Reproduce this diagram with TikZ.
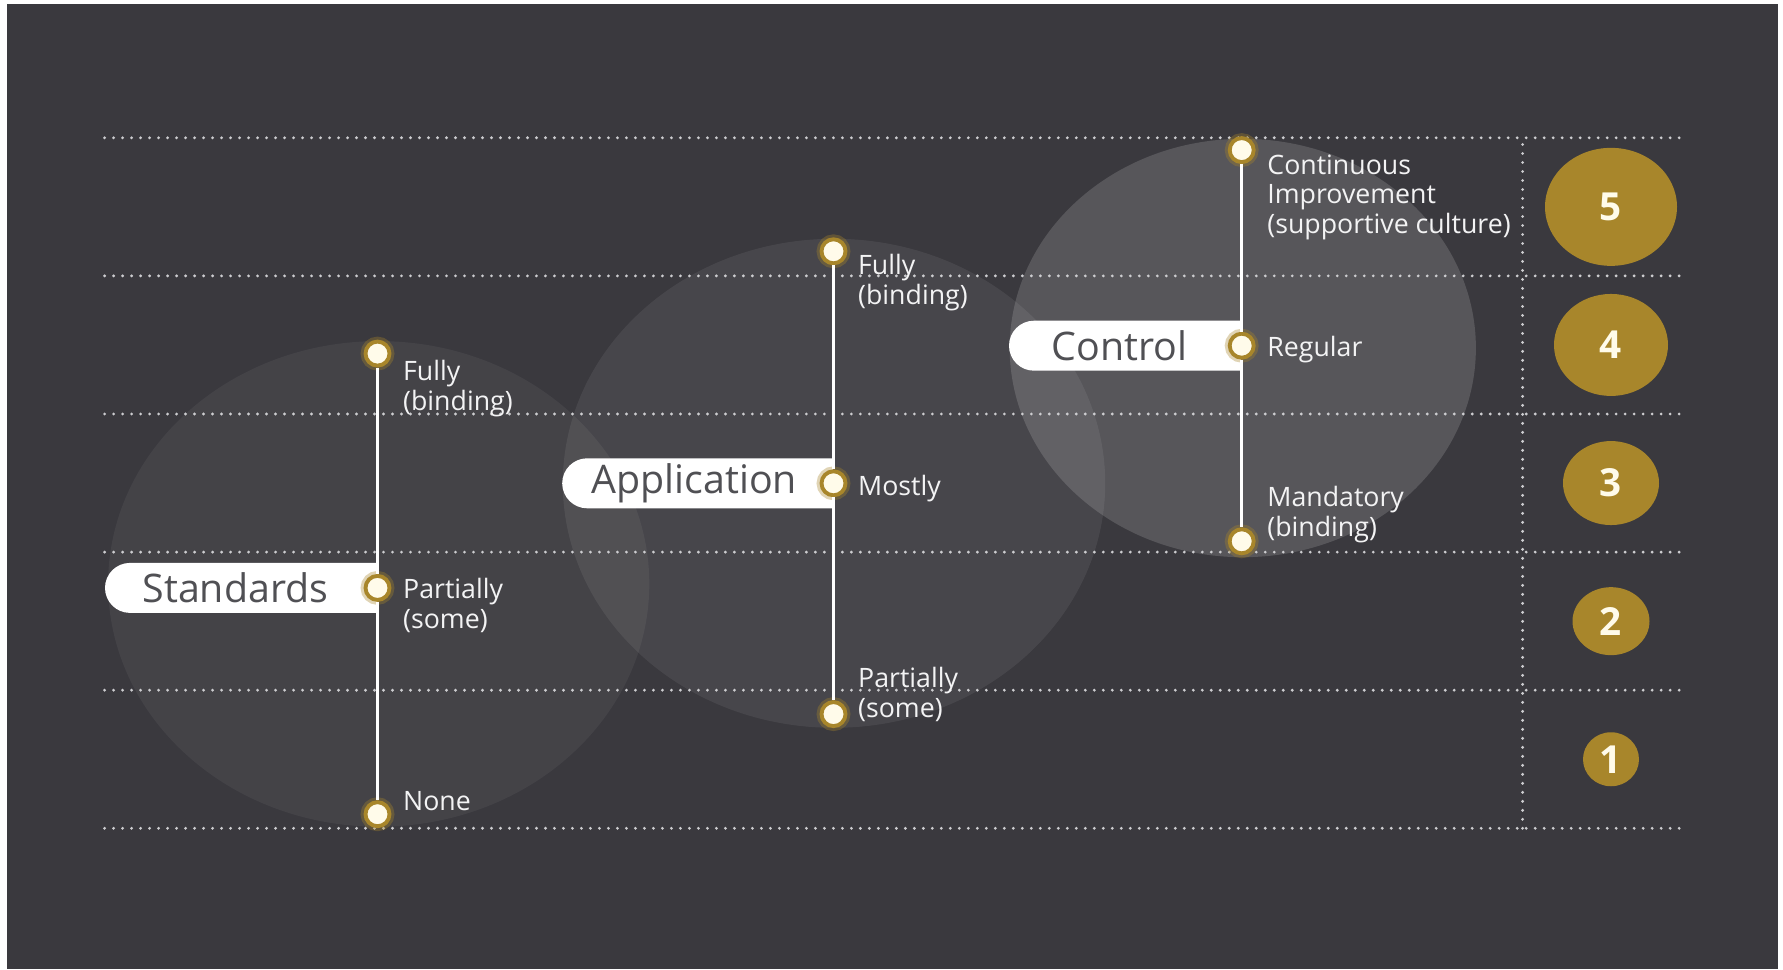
\documentclass[tikz,border=0pt]{standalone}
\usepackage{fontspec}
\setmainfont{Open Sans}
\usetikzlibrary{shapes.geometric, shapes.misc, positioning}

\definecolor{slate}{RGB}{58, 57, 62}
\definecolor{ochre}{RGB}{168, 134, 43}
\definecolor{cream}{RGB}{255, 251, 234}
\definecolor{pillgray}{RGB}{80, 80, 84}
\definecolor{dotgray}{RGB}{205, 205, 208}

\begin{document}
\begin{tikzpicture}[
  grid/.style={dotgray, line width=0.9pt, line cap=round, dash pattern=on 0pt off 2.56pt},
  halo/.style={fill=white, fill opacity=#1},
  spine/.style={draw=white, line width=0.9pt},
  knob/.style={circle, fill=cream, draw=ochre, line width=1.1pt, minimum size=0.24cm, inner sep=0pt,
    preaction={draw=ochre, line width=2.8pt, opacity=0.35}},
  tag/.style={rounded rectangle, rounded rectangle right arc=none, fill=white, text=pillgray,
    minimum height=0.5cm, inner sep=0pt, anchor=east, font=\fontsize{11.2}{13}\selectfont,
    execute at end node=\hspace{1.6mm}},
  lbl/.style={text=white!94!slate, align=left, inner sep=0pt, anchor=north west,
    font=\fontsize{7.6}{8.4}\selectfont},
  badge/.style={ellipse, fill=ochre, text=cream, inner sep=0pt, font=\fontsize{11}{12}\selectfont\bfseries}
]
  % page and dark panel
  \useasboundingbox (0,0) rectangle (17.83,9.69);
  \fill[white] (0,0) rectangle (17.83,9.69);
  \fill[slate] (0.07,0) rectangle (17.78,9.65);

  % soft discs behind the three scales
  \fill[halo=0.05] (3.787,3.851) ellipse [x radius=2.706, y radius=2.428];
  \fill[halo=0.07] (8.34,4.857) ellipse [x radius=2.712, y radius=2.445];
  \fill[halo=0.15] (12.428,6.21) ellipse [x radius=2.331, y radius=2.092];

  % level grid
  \foreach \k in {0,...,5}
    \draw[grid] (1.046,{1.407+1.381*\k}) -- (16.81,{1.407+1.381*\k});
  \draw[grid] (15.226,1.407) -- (15.226,8.312);

  % Standards
  \node[tag, minimum width=2.718cm] (stdtag) at (3.775,3.811) {Standards};
  \node[knob] (stdmid) at (stdtag.east) {};
  \node[knob] (stdtop) at (3.775,6.154) {};
  \node[knob] (stdbot) at (3.775,1.548) {};
  \draw[spine] (stdtop) -- (stdmid) -- (stdbot);
  \node[lbl] (stdfull) at ([shift={(0.25,-0.06)}]stdtop) {Fully\\(binding)};
  \node[lbl] (stdpart) at ([shift={(0.25,0.10)}]stdmid) {Partially\\(some)};
  \node[lbl] (stdnone) at ([shift={(0.25,0.237)}]stdbot) {None};

  % Application
  \node[tag, minimum width=2.706cm] (apptag) at (8.335,4.857) {Application};
  \node[knob] (appmid) at (apptag.east) {};
  \node[knob] (apptop) at (8.335,7.177) {};
  \node[knob] (appbot) at (8.335,2.549) {};
  \draw[spine] (apptop) -- (appmid) -- (appbot);
  \node[lbl] (appfull) at ([shift={(0.24,-0.025)}]apptop) {Fully\\(binding)};
  \node[lbl] (appmost) at ([shift={(0.24,0.09)}]appmid) {Mostly};
  \node[lbl] (apppart) at ([shift={(0.24,0.475)}]appbot) {Partially\\(some)};

  % Control
  \node[tag, minimum width=2.32cm] (ctltag) at (12.417,6.233) {Control};
  \node[knob] (ctlmid) at (ctltag.east) {};
  \node[knob] (ctltop) at (12.417,8.189) {};
  \node[knob] (ctlbot) at (12.417,4.277) {};
  \draw[spine] (ctltop) -- (ctlmid) -- (ctlbot);
  \node[lbl] (ctlcont) at ([shift={(0.25,-0.036)}]ctltop) {Continuous\\Improvement\\(supportive culture)};
  \node[lbl] (ctlreg) at ([shift={(0.25,0.10)}]ctlmid) {Regular};
  \node[lbl] (ctlmand) at ([shift={(0.25,0.555)}]ctlbot) {Mandatory\\(binding)};

  % maturity levels
  \foreach \n/\w/\h in {1/0.56/0.54, 2/0.77/0.68, 3/0.96/0.84, 4/1.14/1.02, 5/1.32/1.18}
    \node[badge, minimum width=\w cm, minimum height=\h cm] (lvl\n) at (16.11,{1.407+1.381*(\n-0.5)}) {\n};
\end{tikzpicture}
\end{document}
